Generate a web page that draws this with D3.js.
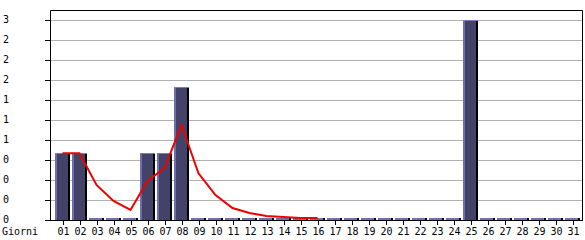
<!DOCTYPE html>
<html>
<head>
<meta charset="utf-8">
<script src="https://cdn.jsdelivr.net/npm/d3@7"></script>
<style>
  body { margin: 0; background: #fff; }
  text { font-family: "DejaVu Sans Mono", monospace; font-size: 10px; fill: #000; }
</style>
</head>
<body>
<svg width="585" height="240"></svg>
<script>
// days of the month
var days = d3.range(1, 32).map(function(d) { return d < 10 ? "0" + d : "" + d; });
// visits per day
var visits = [1, 1, 0, 0, 0, 1, 1, 2, 0, 0, 0, 0, 0, 0, 0, 0,
              0, 0, 0, 0, 0, 0, 0, 0, 3, 0, 0, 0, 0, 0, 0];
// red trend line (days 01..16)
var trend = [1.0, 1.0, 0.525, 0.285, 0.15, 0.585, 0.78, 1.425, 0.70, 0.375,
             0.18, 0.105, 0.06, 0.045, 0.03, 0.03];
// y ticks and the (truncated) labels shown
var yTicks = [0, 0.3, 0.6, 0.9, 1.2, 1.5, 1.8, 2.1, 2.4, 2.7, 3.0];
var yTickLabels = ["0", "0", "0", "0", "1", "1", "1", "2", "2", "2", "3"];

(function() {
var svg = d3.select("svg"),
    mLeft = 50, mRight = 582, mTop = 10, mBottom = 220;

var x = d3.scaleBand().domain(days).range([54, 581]).padding(0);
var y = d3.scaleLinear().domain([0, 3.15]).range([mBottom, mTop]);

// grid
svg.append("g").selectAll("line").data(yTicks.slice(1)).enter().append("line")
    .attr("x1", mLeft).attr("x2", mRight)
    .attr("y1", function(d) { return Math.round(y(d)) + 0.5; })
    .attr("y2", function(d) { return Math.round(y(d)) + 0.5; })
    .attr("stroke", "#b0b0b0");

// bars
var bw = x.bandwidth() - 2;
var bars = svg.append("g").selectAll("g").data(visits).enter().append("g")
    .attr("transform", function(d, i) { return "translate(" + (x(days[i]) + 1) + ",0)"; });

bars.each(function(d) {
    var g = d3.select(this);
    var yt = d > 0 ? Math.round(y(d)) : mBottom - 2;
    var h = mBottom - yt;
    g.append("rect").attr("x", 0).attr("y", yt).attr("width", bw).attr("height", h)
        .attr("fill", d > 0 ? "#434369" : "#7070b0");
    if (d > 0) {
        g.append("rect").attr("x", 0).attr("y", yt).attr("width", 2).attr("height", h).attr("fill", "#6e6eaa");
        g.append("rect").attr("x", 0).attr("y", yt).attr("width", bw).attr("height", 1).attr("fill", "#7c7cbc");
        g.append("rect").attr("x", bw - 2).attr("y", yt + 1).attr("width", 2).attr("height", h - 1).attr("fill", "#000");
    } else {
        g.append("rect").attr("x", bw - 2).attr("y", yt).attr("width", 2).attr("height", h).attr("fill", "#000");
    }
});

// trend line
var line = d3.line()
    .x(function(d, i) { return x(days[i]) + x.bandwidth() / 2; })
    .y(function(d) { return y(d); });

svg.append("path")
    .datum(trend)
    .attr("fill", "none")
    .attr("stroke", "#ee0000")
    .attr("stroke-width", 2)
    .attr("d", line);

// frame
svg.append("path")
    .attr("d", "M" + (mLeft + 0.5) + "," + mBottom + "V" + (mTop + 0.5) + "H" + (mRight + 0.5) + "V" + mBottom)
    .attr("fill", "none").attr("stroke", "#000");
svg.append("line")
    .attr("x1", mLeft).attr("x2", mRight + 1)
    .attr("y1", mBottom + 0.5).attr("y2", mBottom + 0.5)
    .attr("stroke", "#000");

// y axis ticks + labels
svg.append("g").selectAll("line").data(yTicks).enter().append("line")
    .attr("x1", 45).attr("x2", mLeft)
    .attr("y1", function(d) { return Math.round(y(d)) + 0.5; })
    .attr("y2", function(d) { return Math.round(y(d)) + 0.5; })
    .attr("stroke", "#000");
svg.append("g").selectAll("text").data(yTicks).enter().append("text")
    .attr("x", 3)
    .attr("y", function(d) { return Math.round(y(d)) + 3; })
    .text(function(d, i) { return yTickLabels[i]; });

// x axis ticks + labels
svg.append("g").selectAll("line").data(days).enter().append("line")
    .attr("x1", function(d) { return Math.round(x(d) + x.bandwidth() / 2) + 0.5; })
    .attr("x2", function(d) { return Math.round(x(d) + x.bandwidth() / 2) + 0.5; })
    .attr("y1", mBottom).attr("y2", mBottom + 5)
    .attr("stroke", "#000");
svg.append("g").selectAll("text").data(days).enter().append("text")
    .attr("x", function(d) { return x(d) + x.bandwidth() / 2 + 1; })
    .attr("y", 235)
    .attr("text-anchor", "middle")
    .text(function(d) { return d; });

svg.append("text").attr("x", 2).attr("y", 235).text("Giorni");
})();
</script>
</body>
</html>
